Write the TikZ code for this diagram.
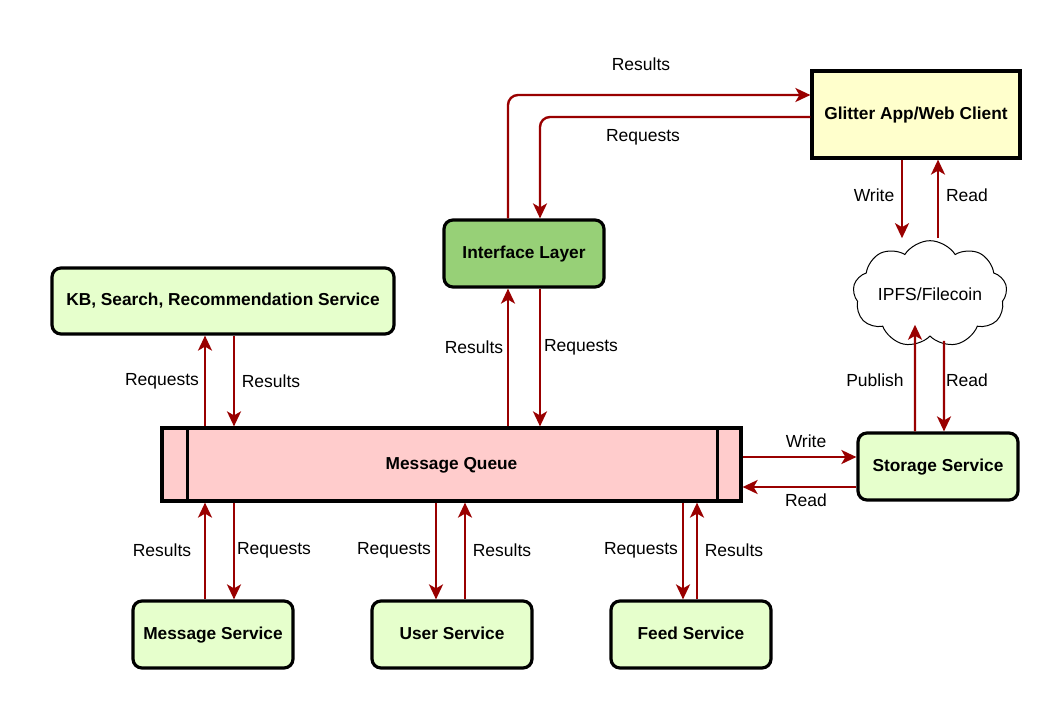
\documentclass[tikz,border=0pt]{standalone}
\usepackage{fontspec}
\setmainfont{Liberation Sans}
\usetikzlibrary{arrows.meta,shapes.symbols}
\definecolor{arrred}{HTML}{990000}
\definecolor{yel}{HTML}{FFFFCC}
\definecolor{grn}{HTML}{97D077}
\definecolor{lgrn}{HTML}{E6FFCC}
\definecolor{pnk}{HTML}{FFCCCC}
\tikzset{
  box/.style={draw=black, line width=3.2pt, rounded corners=9pt, fill=lgrn, minimum width=160pt, minimum height=67pt, font=\fontsize{17.3}{20}\selectfont\bfseries, inner sep=0pt, text height=12.5pt, text depth=3.5pt},
  arr/.style={draw=arrred, line width=2.4pt, -{Stealth[length=15pt,width=14pt,inset=4pt]}},
  lbl/.style={font=\fontsize{17.5}{20}\selectfont, inner sep=0pt}
}
\begin{document}
\begin{tikzpicture}[x={(1pt,0)}, y={(0,-1pt)}]
\useasboundingbox (0,0) rectangle (1059,713);
% nodes
\node[box, rounded corners=0pt, fill=yel, minimum width=208pt, minimum height=87pt] (glitter) at (916,114.5) {Glitter App/Web Client};
\node[box, fill=grn] (iface) at (524,253.5) {Interface Layer};
\node[box, minimum width=342pt, minimum height=66pt] (kb) at (223,301) {KB, Search, Recommendation Service};
\node[box, rounded corners=0pt, fill=pnk, minimum width=579pt, minimum height=73pt] (mq) at (451.5,464.5) {Message Queue};
\draw[line width=3.2pt] ([xshift=27pt]mq.north west) -- ([xshift=27pt]mq.south west);
\draw[line width=3.2pt] ([xshift=-25pt]mq.north east) -- ([xshift=-25pt]mq.south east);
\node[box] (storage) at (938,466.5) {Storage Service};
\node[box] (msg) at (213,634.5) {Message Service};
\node[box] (user) at (452,634.5) {User Service};
\node[box] (feed) at (691,634.5) {Feed Service};
\node[cloud, cloud puffs=9, cloud puff arc=115, aspect=1.75, draw=black, line width=1pt, fill=white, minimum width=150pt, minimum height=84pt, font=\fontsize{17.5}{20}\selectfont, inner sep=0pt] (cloud) at (930,294) {IPFS/Filecoin};
% connectors
\draw[arr, rounded corners=10pt] ([xshift=-16pt]iface.north) |- ([yshift=19.5pt]glitter.west);
\draw[arr, rounded corners=10pt] ([yshift=-2.5pt]glitter.west) -| ([xshift=16pt]iface.north);
\draw[arr] ([xshift=-14pt]glitter.south) -- ([xshift=-28pt,yshift=2pt]cloud.north);
\draw[arr] ([xshift=8pt,yshift=2pt]cloud.north) -- ([xshift=22pt]glitter.south);
\draw[arr] ([xshift=-23pt]storage.north) -- ([xshift=-15pt,yshift=12pt]cloud.south);
\draw[arr] ([xshift=14pt,yshift=-4pt]cloud.south) -- ([xshift=6pt]storage.north);
\draw[arr] ([yshift=7.5pt]mq.east) -- ([yshift=9.5pt]storage.west);
\draw[arr] ([yshift=-20.5pt]storage.west) -- ([yshift=-22.5pt]mq.east);
\draw[arr] ([xshift=-16pt]iface.south |- mq.north) -- ([xshift=-16pt]iface.south);
\draw[arr] ([xshift=16pt]iface.south) -- ([xshift=16pt]iface.south |- mq.north);
\draw[arr] ([xshift=-18pt]kb.south |- mq.north) -- ([xshift=-18pt]kb.south);
\draw[arr] ([xshift=11pt]kb.south) -- ([xshift=11pt]kb.south |- mq.north);
\draw[arr] ([xshift=-8pt]msg.north) -- ([xshift=-8pt]msg.north |- mq.south);
\draw[arr] ([xshift=21pt]msg.north |- mq.south) -- ([xshift=21pt]msg.north);
\draw[arr] ([xshift=-16pt]user.north |- mq.south) -- ([xshift=-16pt]user.north);
\draw[arr] ([xshift=13pt]user.north) -- ([xshift=13pt]user.north |- mq.south);
\draw[arr] ([xshift=-8pt]feed.north |- mq.south) -- ([xshift=-8pt]feed.north);
\draw[arr] ([xshift=6pt]feed.north) -- ([xshift=6pt]feed.north |- mq.south);
% labels
\node[lbl] (l1) at (641,64) {Results};
\node[lbl] (l2) at (643,137) {Requests};
\node[lbl] (l3) at (874,195) {Write};
\node[lbl] (l4) at (967,195) {Read};
\node[lbl] (l5) at (875,380) {Publish};
\node[lbl] (l6) at (967,380) {Read};
\node[lbl] (l7) at (806,441) {Write};
\node[lbl] (l8) at (806,500) {Read};
\node[lbl] (l9) at (474,347) {Results};
\node[lbl] (l10) at (581,347) {Requests};
\node[lbl] (l11) at (162,381) {Requests};
\node[lbl] (l12) at (271,381) {Results};
\node[lbl] (l13) at (162,550) {Results};
\node[lbl] (l14) at (274,550) {Requests};
\node[lbl] (l15) at (394,550) {Requests};
\node[lbl] (l16) at (502,550) {Results};
\node[lbl] (l17) at (641,550) {Requests};
\node[lbl] (l18) at (734,550) {Results};
\end{tikzpicture}
\end{document}
